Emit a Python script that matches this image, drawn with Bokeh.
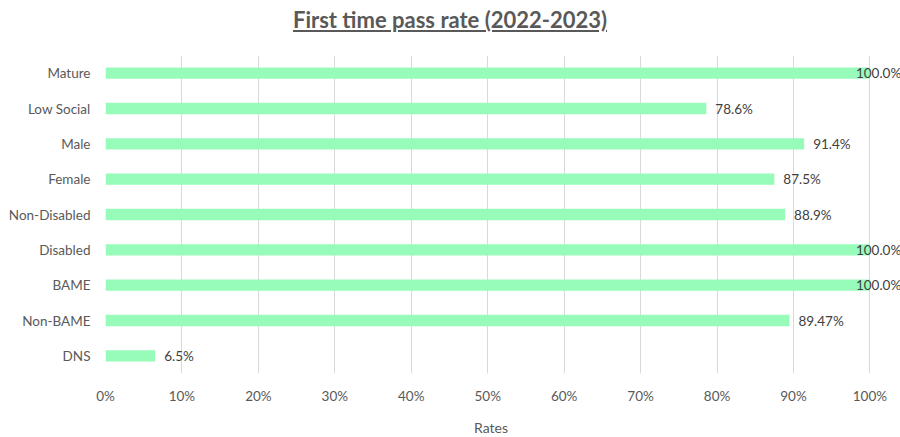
from bokeh.plotting import figure
from bokeh.models import ColumnDataSource, NumeralTickFormatter, FixedTicker, Div, Range1d
from bokeh.layouts import column
from bokeh.core.properties import value
from bokeh.embed import file_html
from bokeh.resources import INLINE

categories = ["Mature", "Low Social", "Male", "Female", "Non-Disabled", "Disabled", "BAME", "Non-BAME", "DNS"]
rates = [1.0, 0.786, 0.914, 0.875, 0.889, 1.0, 1.0, 0.8947, 0.065]
rate_labels = ["100.0%", "78.6%", "91.4%", "87.5%", "88.9%", "100.0%", "100.0%", "89.47%", "6.5%"]
x_ticks = [0, 0.1, 0.2, 0.3, 0.4, 0.5, 0.6, 0.7, 0.8, 0.9, 1.0]

FONT = "Lato"
GREY = "#595959"
FS = "13.5px"

offsets = [-14 if r >= 1.0 else 9 for r in rates]
src = ColumnDataSource(dict(cat=categories, rate=rates, lab=rate_labels, off=offsets))

title = Div(
    text="<u>First time pass rate (2022-2023)</u>",
    width=900, height=34, margin=(6, 0, 0, 0),
    styles={"text-align": "center", "width": "900px", "font-family": FONT, "font-size": "22px",
            "font-weight": "bold", "color": GREY, "line-height": "28px"},
)

p = figure(
    y_range=list(reversed(categories)), x_range=Range1d(0, 1.04),
    width=900, height=366, output_backend="svg", toolbar_location=None,
    min_border_left=105, min_border_right=0, min_border_top=15, min_border_bottom=30,
    margin=(0, 0, 0, 0),
)
p.hbar(y="cat", right="rate", left=0, height=0.32, source=src, color="#97FBB9", line_color=None)
p.text(x="rate", y="cat", text="lab", x_offset="off", source=src, text_baseline="middle",
       text_align="left", text_font=value(FONT), text_font_size=FS, text_color="#404040")

p.outline_line_color = None
p.background_fill_color = "white"
p.border_fill_color = "white"

p.xaxis.ticker = FixedTicker(ticks=x_ticks)
p.xaxis.formatter = NumeralTickFormatter(format="0%")
p.xaxis.axis_line_color = None
p.xaxis.major_tick_line_color = None
p.xaxis.minor_tick_line_color = None
p.xaxis.major_label_text_font = FONT
p.xaxis.major_label_text_font_size = FS
p.xaxis.major_label_text_color = GREY
p.xaxis.major_label_standoff = 8

p.yaxis.axis_line_color = None
p.yaxis.major_tick_line_color = None
p.yaxis.minor_tick_line_color = None
p.yaxis.major_label_text_font = FONT
p.yaxis.major_label_text_font_size = FS
p.yaxis.major_label_text_color = GREY
p.yaxis.major_label_standoff = 9

p.xgrid.grid_line_color = "#d9d9d9"
p.xgrid.ticker = FixedTicker(ticks=x_ticks)
p.ygrid.grid_line_color = None

xlabel = Div(
    text="Rates",
    width=900, height=19, margin=(12, 0, 0, 0),
    styles={"text-align": "center", "width": "900px", "font-family": FONT, "font-size": "14px",
            "color": GREY, "padding-left": "82px", "line-height": "19px"},
)

layout = column(title, p, xlabel, spacing=0)
open("out.html", "w").write(file_html(layout, INLINE))
